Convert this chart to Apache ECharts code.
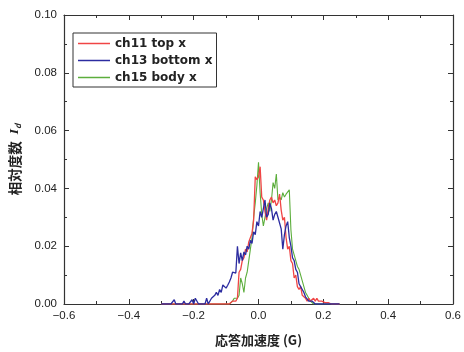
<!DOCTYPE html>
<html><head><meta charset="utf-8">
<script src="https://cdn.jsdelivr.net/npm/echarts@6/dist/echarts.min.js"></script>
<style>html,body{margin:0;padding:0;background:#fff}#c{width:464px;height:352px}</style>
</head><body><div id="c"></div>
<script>
const seriesNames = ['ch11 top x', 'ch13 bottom x', 'ch15 body x'];
const xs = [-0.300,-0.295,-0.290,-0.285,-0.280,-0.275,-0.270,-0.265,-0.260,-0.255,
-0.250,-0.245,-0.240,-0.235,-0.230,-0.225,-0.220,-0.215,-0.210,-0.205,
-0.200,-0.195,-0.190,-0.185,-0.180,-0.175,-0.170,-0.165,-0.160,-0.155,
-0.150,-0.145,-0.140,-0.135,-0.130,-0.125,-0.120,-0.115,-0.110,-0.105,
-0.100,-0.095,-0.090,-0.085,-0.080,-0.075,-0.070,-0.065,-0.060,-0.055,
-0.050,-0.045,-0.040,-0.035,-0.030,-0.025,-0.020,-0.015,-0.010,-0.005,
0.000,0.005,0.010,0.015,0.020,0.025,0.030,0.035,0.040,0.045,
0.050,0.055,0.060,0.065,0.070,0.075,0.080,0.085,0.090,0.095,
0.100,0.105,0.110,0.115,0.120,0.125,0.130,0.135,0.140,0.145,
0.150,0.155,0.160,0.165,0.170,0.175,0.180,0.185,0.190,0.195,
0.200,0.205,0.210,0.215,0.220,0.225,0.230,0.235,0.240,0.245,0.250];
const ch11 = [0,0,0,0,0,0,0,0,0,0,
0,0,0,0,0,0,0,0,0,0,
0,0,0,0,0,0,0,0,0,0,
0,0,0,0,0,0,0,0,0,0,
0,0,0,0.0005,0.001,0.0015,0.001,0.002,0.011,0.012,
0.015,0.016,0.019,0.018,0.0215,0.021,0.0245,0.029,0.044,0.043,
0.044,0.0475,0.037,0.036,0.032,0.029,0.033,0.036,0.037,0.035,
0.036,0.034,0.035,0.038,0.0325,0.029,0.030,0.023,0.019,0.020,
0.015,0.014,0.009,0.010,0.006,0.005,0.006,0.003,0.0025,0.002,
0.001,0.002,0.001,0.0015,0.002,0.001,0.002,0.001,0.0015,0.001,
0.0015,0.0005,0.001,0.0005,0,0,0,0,0,0,0];
const ch13 = [0,0,0,0,0,0,0,0,0.0015,0,
0,0,0,0,0.001,0,0,0,0,0.0015,
0,0.002,0.0015,0,0,0,0,0,0.002,0,
0,0.002,0.002,0.003,0.004,0.003,0.005,0.004,0.0066,0.006,
0.0055,0.0065,0.0076,0.009,0.011,0.0105,0.0107,0.020,0.014,0.0177,
0.015,0.018,0.017,0.020,0.019,0.022,0.021,0.025,0.024,0.0285,
0.027,0.032,0.030,0.033,0.036,0.030,0.031,0.035,0.033,0.029,
0.031,0.032,0.030,0.030,0.026,0.019,0.024,0.027,0.0285,0.023,
0.020,0.016,0.015,0.012,0.011,0.007,0.006,0.005,0.004,0.0025,
0.002,0.001,0.0015,0.001,0.0005,0,0,0,0,0,
0,0,0,0,0,0,0,0,0,0,0];
const ch15 = [0,0,0,0,0,0,0,0,0,0,
0,0,0,0,0,0,0,0,0,0,
0,0,0,0,0,0,0,0,0,0,
0,0,0,0,0,0,0,0,0,0,
0,0,0,0,0.001,0.002,0.0015,0.002,0.003,0.009,
0.007,0.004,0.009,0.011,0.015,0.019,0.023,0.030,0.035,0.041,
0.049,0.0385,0.031,0.027,0.030,0.033,0.035,0.032,0.036,0.042,
0.040,0.045,0.036,0.037,0.036,0.0385,0.037,0.038,0.0385,0.0395,
0.0257,0.019,0.017,0.015,0.013,0.012,0.010,0.008,0.006,0.004,
0.003,0.002,0.001,0.0005,0,0,0,0,0,0,
0,0,0,0,0,0,0,0,0,0,0];
const xTickLabels = ['\u22120.6','\u22120.4','\u22120.2','0.0','0.2','0.4','0.6'];
const yTickLabels = ['0.00','0.02','0.04','0.06','0.08','0.10'];
const colors = ['#f04545', '#2c2ca0', '#5cae3c'];

function pairs(ys){ return xs.map((x,i)=>[x, ys[i]]); }
const chart = echarts.init(document.getElementById('c'), null, {renderer:'canvas'});
const axisLine = {show:true, onZero:false, lineStyle:{color:'#333', width:1.2}};
const font = 'Liberation Sans, Arial, sans-serif';
chart.setOption({
  animation:false,
  backgroundColor:'#fff',
  grid:{left:60, right:9, top:15, bottom:48, containLabel:false},
  legend:{
    data:seriesNames, orient:'vertical', left:73, top:33,
    icon:'rect', itemWidth:32, itemHeight:1.5, itemGap:4,
    borderColor:'#333', borderWidth:1, borderRadius:0,
    padding:[4,4,3,5],
    textStyle:{fontFamily:'DejaVu Sans, sans-serif', fontSize:12, color:'#222', fontWeight:'bold', lineHeight:13}
  },
  xAxis:[{
    type:'value', min:-0.6, max:0.6, interval:0.2,
    axisLine:axisLine,
    axisTick:{inside:true, length:5, lineStyle:{color:'#333'}},
    minorTick:{show:true, splitNumber:2, length:3, lineStyle:{color:'#333'}},
    splitLine:{show:false},
    axisLabel:{margin:6, fontSize:11.5, color:'#222', fontFamily:font,
      formatter:(v)=>xTickLabels[Math.round((v+0.6)/0.2)]},
    name:'応答加速度 (G)', nameLocation:'middle', nameGap:30,
    nameTextStyle:{fontSize:13, color:'#222', fontWeight:'bold', fontFamily:'Noto Sans CJK JP, sans-serif'}
  },{
    type:'value', position:'top', min:-0.6, max:0.6, interval:0.2,
    axisLine:axisLine,
    axisTick:{inside:true, length:5, lineStyle:{color:'#333'}},
    minorTick:{show:true, splitNumber:2, length:3, lineStyle:{color:'#333'}},
    splitLine:{show:false}, axisLabel:{show:false}
  }],
  yAxis:[{
    type:'value', min:0, max:0.1, interval:0.02,
    axisLine:axisLine,
    axisTick:{inside:true, length:5, lineStyle:{color:'#333'}},
    minorTick:{show:true, splitNumber:2, length:3, lineStyle:{color:'#333'}},
    splitLine:{show:false},
    axisLabel:{margin:7, fontSize:11.5, color:'#222', fontFamily:font,
      formatter:(v)=>yTickLabels[Math.round(v/0.02)]},
    name:'相対度数 {i|I}{d|d}', nameLocation:'middle', nameGap:42,
    nameTextStyle:{fontSize:13.5, color:'#222', fontWeight:'bold', fontFamily:'Noto Sans CJK JP, sans-serif',
      rich:{i:{fontSize:13.5, fontStyle:'italic', fontWeight:'bold', fontFamily:'Liberation Serif, serif', padding:[0,0,0,4]},
            d:{fontSize:8, fontStyle:'italic', verticalAlign:'bottom', padding:[6,0,0,0]}}}
  },{
    type:'value', position:'right', min:0, max:0.1, interval:0.02,
    axisLine:axisLine,
    axisTick:{inside:true, length:5, lineStyle:{color:'#333'}},
    minorTick:{show:true, splitNumber:2, length:3, lineStyle:{color:'#333'}},
    splitLine:{show:false}, axisLabel:{show:false}
  }],
  series:[
    {name:seriesNames[0], type:'line', data:pairs(ch11), symbol:'none', color:colors[0], lineStyle:{width:1.3}, z:3},
    {name:seriesNames[1], type:'line', data:pairs(ch13), symbol:'none', color:colors[1], lineStyle:{width:1.3}, z:4},
    {name:seriesNames[2], type:'line', data:pairs(ch15), symbol:'none', color:colors[2], lineStyle:{width:1.1}, z:2}
  ]
});
</script></body></html>
